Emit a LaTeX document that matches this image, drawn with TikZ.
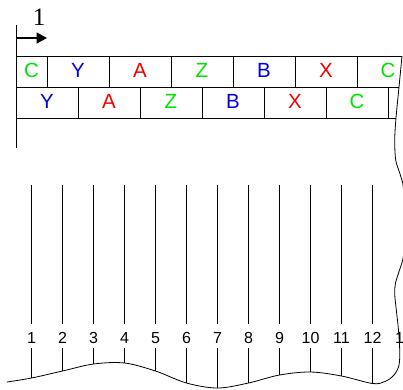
\documentclass[tikz,border=0pt]{standalone}
\usepackage{fontspec}
\setmainfont{Liberation Sans}
\newfontfamily\serifnum{Liberation Serif}
\usetikzlibrary{arrows.meta}

\definecolor{symgreen}{RGB}{0,225,0}
\definecolor{symblue}{RGB}{0,0,235}
\definecolor{symred}{RGB}{240,0,0}

\tikzset{
  tapeline/.style={line width=0.8pt},
  letter/.style={font=\fontsize{20.5}{21}\selectfont, inner sep=0pt},
  numlabel/.style={font=\fontsize{16}{17}\selectfont, text height=14pt, text depth=0pt, inner xsep=1pt, inner ysep=5pt},
}

\begin{document}
\begin{tikzpicture}[x=1pt, y=-1pt]
\clip (0,0) rectangle (403,389);

                % Draw the left edge of the tape
                \coordinate (lefttop) at (16,25);
                \coordinate (leftbot) at (16,148);
                \draw[line width=1pt] (lefttop) -- (leftbot);

                % Draw the step arrow and its label
                \coordinate (arrowstart) at (16,38);
                \coordinate (arrowend) at (47,38);
                \draw[line width=1.8pt, -{Triangle[length=10.5pt,width=11pt]}] (arrowstart) -- (arrowend);
                \node[font=\serifnum\fontsize{25}{25}\selectfont, inner sep=0pt] (steplbl) at (39,17) {1};

                % Draw the two rows of cells
                \coordinate (e1) at (402,56);
                \coordinate (e2) at (399,87);
                \coordinate (e3) at (396,118);
                \draw[tapeline] (16,56) -- (e1);
                \draw[tapeline] (16,87) -- (e2);
                \draw[tapeline] (16,118) -- (e3);
                \foreach \x in {47,109,...,357} {
                    \draw[tapeline] (\x,56) -- (\x,87); % upper row cell border
                }
                \foreach \x in {78,140,...,388} {
                    \draw[tapeline] (\x,87) -- (\x,118); % lower row cell border
                }

                % Add symbols to cells
                \foreach \x/\s/\c [count=\i] in {31.5/C/symgreen, 78/Y/symblue, 140/A/symred, 202/Z/symgreen, 264/B/symblue, 326/X/symred, 388/C/symgreen} {
                    \node[letter, text=\c] (up\i) at (\x,70.5) {\s};
                }
                \foreach \x/\s/\c [count=\i] in {47/Y/symblue, 109/A/symred, 171/Z/symgreen, 233/B/symblue, 295/X/symred, 357/C/symgreen} {
                    \node[letter, text=\c] (low\i) at (\x,101) {\s};
                }

                % Points on the torn bottom edge
                \foreach \y [count=\i] in {378,371,364,363,371,383,388,383,375,372,376,383.5} {
                    \coordinate (b\i) at (0.5+31*\i,\y);
                }

                % Draw the torn right and bottom edge
                \draw[tapeline] plot[smooth, tension=0.55] coordinates {(e1) (e2) (e3) (394.7,140) (395.7,160) (399.7,173) (403.5,188) (405,220) (403.5,255) (399.5,270) (395.5,283) (394.7,294) (396.3,310) (398.5,330) (399.7,350) (399,365) (394,375) (385,381.5) (b12) (b11) (b10) (b9) (b8) (b7) (b6) (b5) (b4) (b3) (b2) (b1) (7,382)};

                % Draw the numbered lines
                \foreach \i in {1,...,12} {
                    \coordinate (t\i) at (0.5+31*\i,185);
                    \node[numlabel] (n\i) at (0.5+31*\i,336) {\i};
                    \draw[tapeline] (t\i) -- (n\i);
                    \draw[tapeline] (n\i) -- (b\i);
                }
                \node[numlabel] (n13) at (404,336) {13};

\end{tikzpicture}
\end{document}
